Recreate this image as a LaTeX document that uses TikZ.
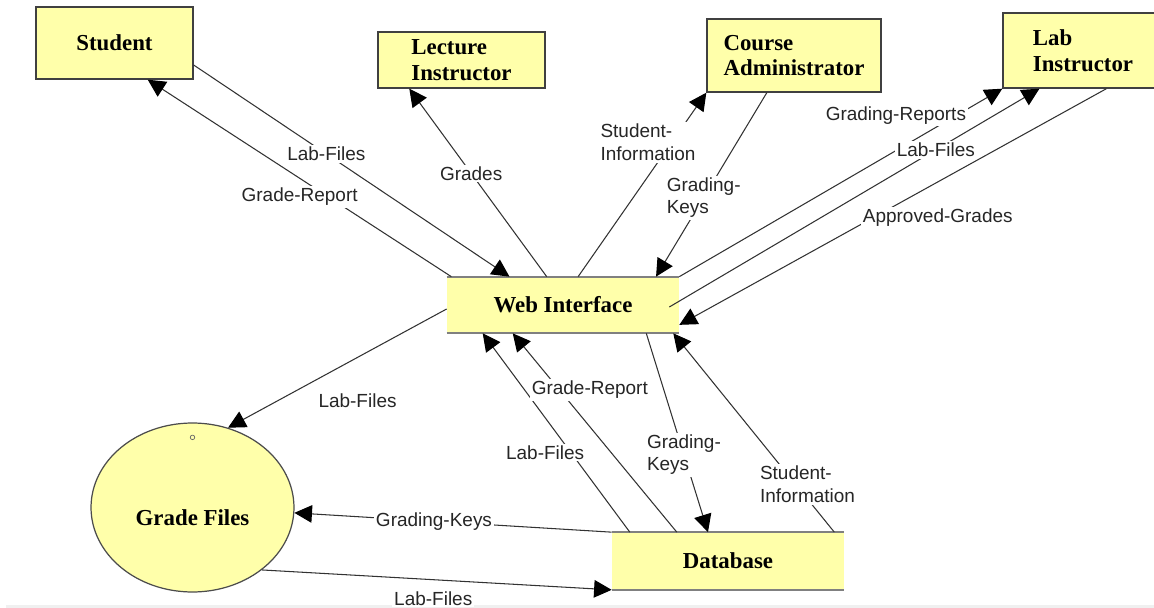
\documentclass[tikz,border=0pt]{standalone}
\usepackage{fontspec}
\setmainfont{Liberation Serif}
\newfontfamily\lblfont{Liberation Sans}
\usetikzlibrary{shapes.geometric, arrows.meta, positioning, calc}
\definecolor{dfdyellow}{RGB}{255,255,170}
\definecolor{dfdline}{RGB}{50,50,50}

\tikzset{
  box/.style={draw=black!75, line width=0.8pt, fill=dfdyellow, inner sep=0pt, align=left,
    font=\bfseries\fontsize{13}{14.5}\selectfont},
  store/.style={fill=dfdyellow, inner sep=0pt, font=\bfseries\fontsize{13}{14.5}\selectfont},
  storeline/.style={draw=gray, line width=1.3pt},
  flow/.style={draw=dfdline, line width=0.6pt, -{Triangle[length=10pt,width=10pt,color=black]}},
  lbl/.style={font=\lblfont\fontsize{10.8}{13}\selectfont, text=black!85, fill=white,
    inner sep=1pt, align=left},
}

\begin{document}
\begin{tikzpicture}[x=0.02cm, y=-0.02cm]
\useasboundingbox (0,0) rectangle (1154,608);
\fill[black!6] (6,605) rectangle (1154,608);

% External entities
\node[box, minimum width=3.14cm, minimum height=1.44cm] (stu) at (114.5,43) {Student};
\node[box, minimum width=3.34cm, minimum height=1.12cm] (lec) at (461.5,60) {Lecture\\Instructor};
\node[box, minimum width=3.48cm, minimum height=1.46cm] (adm) at (794,55.5) {Course\\Administrator};
\node[box, minimum width=3.2cm, minimum height=1.5cm] (lab) at (1083,50.5) {Lab\\Instructor};

% Data stores
\node[store, minimum width=4.64cm, minimum height=1.12cm] (web) at (563,305) {Web Interface};
\node[store, minimum width=4.64cm, minimum height=1.14cm] (db) at (728,561) {Database};
\draw[storeline] (web.north west) -- (web.north east) (web.south west) -- (web.south east);
\draw[storeline] (db.north west) -- (db.north east) (db.south west) -- (db.south east);

% Process
\node[ellipse, draw=black!70, line width=0.7pt, fill=dfdyellow, minimum width=4.06cm,
  minimum height=3.38cm, inner sep=0pt,
  label={[font=\bfseries\fontsize{13}{14.5}\selectfont, yshift=-0.2cm]center:Grade Files}] (gf) at (192.5,507.5) {};
\draw[black!60] ($(gf.north)+(0,15)$) circle[radius=0.045cm];

% Student
\draw[flow] ($(stu.north east)!0.8!(stu.south east)$) -- ($(web.north west)!0.27!(web.north east)$)
  node[lbl, pos=0.42] {Lab-Files};
\draw[flow] ($(web.north west)!0.02!(web.north east)$) -- ($(stu.south west)!0.71!(stu.south east)$)
  node[lbl, pos=0.47, shift={(-9,13)}] {Grade-Report};

% Lecture instructor
\draw[flow] ($(web.north west)!0.43!(web.north east)$) -- ($(lec.south west)!0.19!(lec.south east)$)
  node[lbl, pos=0.55] {Grades};

% Course administrator
\draw[flow] ($(web.north west)!0.565!(web.north east)$) -- (adm.south west)
  node[lbl, pos=0.67, shift={(-16,-11)}] {Student-\\Information};
\draw[flow] ($(adm.south west)!0.345!(adm.south east)$) -- ($(web.north west)!0.9!(web.north east)$)
  node[lbl, pos=0.57] {Grading-\\Keys};

% Lab instructor
\draw[flow] (web.north east) -- (lab.south west)
  node[lbl, pos=0.72, shift={(-16,-26)}] {Grading-Reports};
\draw[flow] ($(web.east)+(-10,2)$) -- ($(lab.south west)!0.23!(lab.south east)$)
  node[lbl, pos=0.72] {Lab-Files};
\draw[flow] ($(lab.south west)!0.645!(lab.south east)$) -- ($(web.north east)!0.85!(web.south east)$)
  node[lbl, pos=0.43, shift={(15,27)}] {Approved-Grades};

% Grade files
\draw[flow] ($(web.north west)!0.57!(web.south west)$) -- (gf.66)
  node[lbl, pos=0.49, shift={(18,34)}] {Lab-Files};
\draw[flow] (db.north west) -- (gf.-3)
  node[lbl, pos=0.56] {Grading-Keys};
\draw[flow] (gf.-42) -- (db.south west)
  node[lbl, pos=0.49, shift={(0,19)}] {Lab-Files};

% Database
\draw[flow] ($(db.north west)!0.078!(db.north east)$) -- ($(web.south west)!0.155!(web.south east)$)
  node[lbl, pos=0.46, shift={(-17,12)}] {Lab-Files};
\draw[flow] ($(db.north west)!0.28!(db.north east)$) -- ($(web.south west)!0.284!(web.south east)$)
  node[lbl, pos=0.64, shift={(18,-15)}] {Grade-Report};
\draw[flow] ($(web.south west)!0.858!(web.south east)$) -- ($(db.north west)!0.414!(db.north east)$)
  node[lbl, pos=0.61] {Grading-\\Keys};
\draw[flow] ($(db.north west)!0.957!(db.north east)$) -- ($(web.south west)!0.974!(web.south east)$)
  node[lbl, pos=0.21, shift={(7,-6)}] {Student-\\Information};
\end{tikzpicture}
\end{document}
